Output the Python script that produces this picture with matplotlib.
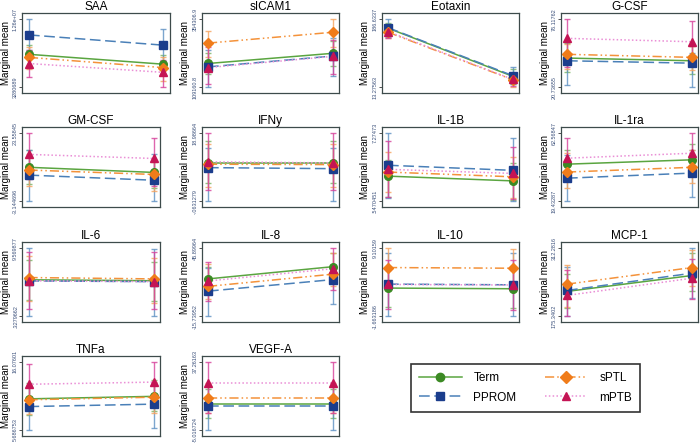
import numpy as np
import matplotlib.pyplot as plt
from matplotlib.lines import Line2D

plt.rcParams['font.family'] = ['Liberation Sans', 'DejaVu Sans']

panels = ['SAA', 'sICAM1', 'Eotaxin', 'G-CSF',
          'GM-CSF', 'IFNy', 'IL-1B', 'IL-1ra',
          'IL-6', 'IL-8', 'IL-10', 'MCP-1',
          'TNFa', 'VEGF-A']

# axis range = min / max of the confidence limits (the only two y ticks)
ylo = [3280689, 109160.8, 13.27563, 20.73655, -3.144696, -.0631279, .5470451,
       19.43287, .3279662, -15.73952, -1.663186, 175.3402, 5.686753, -5.016724]
yhi = [1.26e7, 354306.9, 186.6337, 76.11762, 23.55845, 18.98664, 7.27473,
       62.56847, 9.569877, 45.89964, 9.10159, 312.2816, 16.07601, 37.26163]
lo_lab = ['3280689', '109160.8', '13.27563', '20.73655', '-3.144696', '-.0631279', '.5470451',
          '19.43287', '.3279662', '-15.73952', '-1.663186', '175.3402', '5.686753', '-5.016724']
hi_lab = ['1.26e+07', '354306.9', '186.6337', '76.11762', '23.55845', '18.98664', '7.27473',
          '62.56847', '9.569877', '45.89964', '9.10159', '312.2816', '16.07601', '37.26163']

# [first timepoint, second timepoint] per panel
term_mean = [[7.80e6, 6.45e6], [194962, 231734], [164.1, 41.0], [44.55, 42.34],
             [10.21, 8.20], [10.70, 10.70], [3.036, 2.565], [42.99, 45.75],
             [5.291, 5.161], [18.16, 29.26], [2.804, 2.697], [225.46, 257.50],
             [10.40, 10.78], [11.05, 11.05]]
term_lo = [[6.08e6, 5.14e6], [158190, 187608], [148.5, 21.9], [33.47, 31.82],
           [3.80, 2.20], [5.08, 5.08], [1.018, 0.682], [34.10, 35.39],
           [2.546, 2.361], [7.07, 17.55], [-0.156, -0.371], [191.77, 226.01],
           [7.97, 8.49], [2.17, 2.17]]
term_hi = [[9.06e6, 7.75e6], [231734, 275860], [178.0, 60.1], [56.74, 53.97],
           [16.88, 12.88], [16.70, 16.70], [4.584, 4.382], [52.22, 56.10],
           [8.00, 7.722], [29.26, 41.59], [5.657, 5.657], [260.24, 302.69],
           [12.75, 13.27], [20.35, 20.35]]

pprom_mean = [[10.46e6, 9.06e6], [182705, 221928], [165.3, 42.75], [42.34, 40.40],
              [7.14, 5.13], [9.37, 9.08], [4.113, 3.608], [34.10, 37.33],
              [5.134, 5.041], [7.07, 17.55], [3.429, 3.321], [227.38, 262.16],
              [9.22, 9.59], [9.78, 9.78]]
pprom_lo = [[8.41e6, 6.82e6], [109161, 148384], [141.6, 21.9], [22.40, 20.74],
            [-3.145, -3.145], [-0.063, -0.063], [0.883, 0.547], [19.43, 22.02],
            [0.420, 0.328], [-15.74, -4.34], [-1.555, -1.663], [175.34, 212.31],
            [5.687, 5.90], [-5.017, -5.017]]
pprom_hi = [[12.6e6, 11.3e6], [243991, 285666], [186.63, 65.3], [49.54, 48.43],
            [16.88, 15.28], [14.80, 14.80], [7.275, 6.804], [48.77, 52.22],
            [9.570, 9.477], [28.02, 31.10], [8.348, 8.348], [275.31, 312.28],
            [12.23, 12.75], [22.89, 22.89]]

sptl_mean = [[7.38e6, 5.98e6], [268506, 307729], [153.7, 32.3], [47.60, 45.11],
             [9.14, 7.40], [10.32, 10.22], [3.440, 2.969], [37.98, 41.00],
             [5.596, 5.411], [11.38, 22.48], [6.055, 5.948], [240.11, 273.53],
             [10.26, 10.65], [14.56, 14.56]]
sptl_lo = [[5.80e6, 4.21e6], [219477, 256249], [138.1, 13.28], [35.69, 35.14],
           [2.73, 0.86], [3.94, 3.94], [1.422, 0.883], [28.06, 31.08],
           [2.361, 2.176], [-0.33, 11.38], [3.074, 2.966], [194.51, 235.59],
           [8.08, 8.28], [5.13, 5.13]]
sptl_hi = [[8.87e6, 7.47e6], [312632, 354307], [169.3, 48.0], [55.63, 53.97],
           [15.55, 12.34], [16.13, 16.13], [5.391, 4.920], [50.06, 52.22],
           [8.461, 8.276], [31.72, 41.59], [9.102, 8.994], [279.42, 309.0],
           [12.54, 12.96], [23.73, 24.15]]

mptb_mean = [[6.54e6, 5.33e6], [180253, 220702], [155.4, 33.2], [60.61, 57.84],
             [15.28, 13.68], [10.99, 10.70], [3.709, 3.305], [46.78, 49.93],
             [5.152, 5.041], [16.31, 27.41], [3.375, 3.289], [217.38, 252.03],
             [12.63, 12.96], [24.28, 24.28]]
mptb_lo = [[4.68e6, 3.28e6], [121418, 158190], [138.1, 16.7], [37.35, 39.02],
           [5.67, 3.00], [2.98, 2.98], [1.018, 0.749], [33.24, 36.26],
           [1.345, 1.252], [-2.18, 8.30], [-0.587, -0.694], [175.34, 209.58],
           [9.74, 9.95], [5.13, 5.55]]
mptb_hi = [[8.41e6, 7.01e6], [256249, 280763], [169.3, 48.0], [76.12, 74.46],
           [23.56, 21.69], [18.99, 18.99], [6.467, 5.929], [59.55, 62.57],
           [9.108, 9.016], [33.57, 45.90], [7.272, 7.272], [268.46, 291.74],
           [15.66, 16.076], [37.26, 37.26]]

groups = ['Term', 'PPROM', 'sPTL', 'mPTB']
means = [term_mean, pprom_mean, sptl_mean, mptb_mean]
lows = [term_lo, pprom_lo, sptl_lo, mptb_lo]
highs = [term_hi, pprom_hi, sptl_hi, mptb_hi]

line_col = ['#5aa540', '#4a80b8', '#f4923a', '#ea8fd6']
mark_col = ['#3c8a24', '#1b3d8c', '#f07c1a', '#c41454']
bar_col = ['#78b462', '#5d90c2', '#f5a35e', '#d6409a']
styles = ['-', (0, (7, 3)), (0, (6, 2, 1, 2, 1, 2)), (0, (1, 1.5))]
markers = ['o', 's', 'D', '^']

W, H = 700, 445
fig = plt.figure(figsize=(7, 4.45), dpi=100)

row_top = [13.2, 127.2, 242.2, 355.6]
col_left = [22.25, 201.75, 381.75, 560.75]
box_h = 80.2

x = np.array([0, 1])
for i, name in enumerate(panels):
    r, c = divmod(i, 4)
    w = 147.4 if i == 0 else 137.5
    ax = fig.add_axes([col_left[c] / W, 1 - (row_top[r] + box_h) / H, w / W, box_h / H])
    for g in range(4):
        m = np.array(means[g][i])
        lo = np.array(lows[g][i])
        hi = np.array(highs[g][i])
        ax.errorbar(x, m, yerr=[m - lo, hi - m], fmt='none', ecolor=bar_col[g],
                    elinewidth=1, capsize=2.2, capthick=1, alpha=0.8, zorder=2)
        ax.plot(x, m, color=line_col[g], ls=styles[g], lw=1.1, zorder=3)
        ax.plot(x, m, ls='none', marker=markers[g], ms=5.5,
                color=mark_col[g], mec=mark_col[g], zorder=4)
    span = yhi[i] - ylo[i]
    ax.set_ylim(ylo[i] - 0.09 * span, yhi[i] + 0.09 * span)
    ax.set_xlim(-0.05, 1.05)
    ax.set_xticks([])
    ax.set_yticks([ylo[i], yhi[i]])
    ax.set_yticklabels([lo_lab[i], hi_lab[i]], rotation=90, va='center',
                       fontsize=4, color='#3a4f7a')
    ax.tick_params(axis='y', length=2, width=0.6, pad=1, color='#333333')
    ax.set_ylabel('Marginal mean', fontsize=7, labelpad=1.5)
    ax.set_title(name, fontsize=8.5, pad=2)
    for s in ax.spines.values():
        s.set_color('#3d4b4b')
        s.set_linewidth(0.9)

handles = [Line2D([], [], color=line_col[g], ls=styles[g], lw=1.1, marker=markers[g],
                  ms=6, mfc=mark_col[g], mec=mark_col[g]) for g in range(4)]
leg = fig.legend(handles, groups, loc='center', bbox_to_anchor=(525.5 / W, 1 - 388 / H),
                 ncol=2, fontsize=8.5, frameon=True, fancybox=False, edgecolor='#333333',
                 handlelength=3.6, handletextpad=1.0, columnspacing=2.4,
                 labelspacing=0.6, borderpad=0.7, framealpha=1)
leg.get_frame().set_linewidth(1.2)

fig.savefig('out.png', dpi=100)
